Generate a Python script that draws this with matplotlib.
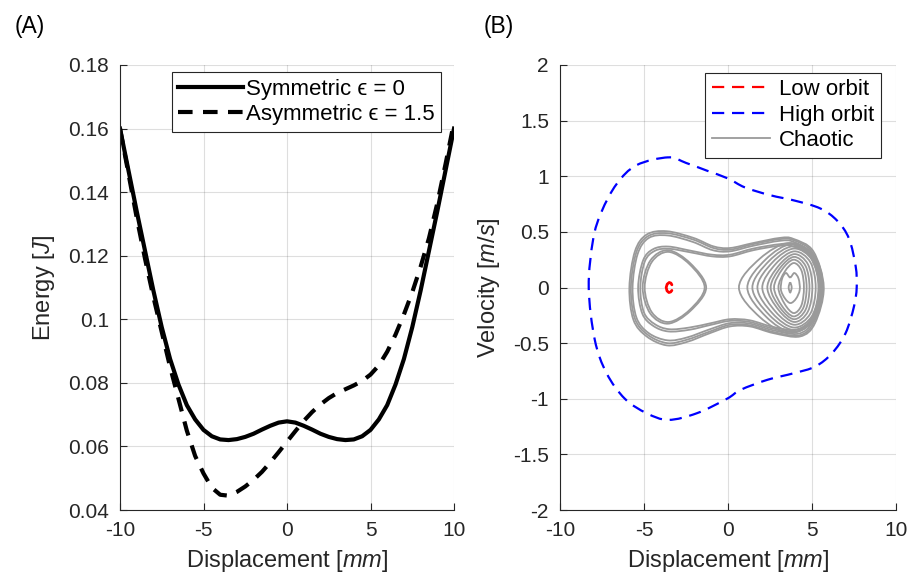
import numpy as np
import matplotlib
matplotlib.use("Agg")
import matplotlib.pyplot as plt
from matplotlib.path import Path
from matplotlib.patches import PathPatch

plt.rcParams['font.family'] = ['Liberation Sans', 'DejaVu Sans']
plt.rcParams['mathtext.fontset'] = 'custom'
plt.rcParams['mathtext.rm'] = 'Liberation Sans'
plt.rcParams['mathtext.it'] = 'Liberation Sans:italic'
plt.rcParams['axes.unicode_minus'] = False

# ---------------- Panel A data ----------------
disp_mm = [-10, -9.5, -9, -8.5, -8, -7.5, -7, -6.5, -6, -5.5, -5, -4.5, -4, -3.5, -3, -2.5,
           -2, -1.5, -1, -0.5, 0, 0.5, 1, 1.5, 2, 2.5, 3, 3.5, 4, 4.5, 5, 5.5, 6, 6.5, 7,
           7.5, 8, 8.5, 9, 9.5, 10]
energy_sym = [0.160, 0.147, 0.134, 0.1215, 0.109, 0.0975, 0.0875, 0.0795, 0.0730, 0.0685,
              0.0652, 0.0632, 0.0622, 0.0620, 0.0623, 0.0630, 0.0640, 0.0653, 0.0665, 0.0675,
              0.0679, 0.0675, 0.0665, 0.0653, 0.0640, 0.0630, 0.0623, 0.0620, 0.0622, 0.0632,
              0.0652, 0.0685, 0.0730, 0.0795, 0.0875, 0.0975, 0.109, 0.1215, 0.134, 0.147, 0.160]
energy_asym = [0.160, 0.146, 0.132, 0.119, 0.107, 0.096, 0.085, 0.075, 0.065, 0.057,
               0.0515, 0.047, 0.0448, 0.0445, 0.0457, 0.0474, 0.0495, 0.052, 0.055, 0.0582,
               0.0615, 0.0648, 0.068, 0.0708, 0.0732, 0.0752, 0.0768, 0.078, 0.0792, 0.0806,
               0.0826, 0.0855, 0.0898, 0.0952, 0.1015, 0.1085, 0.1165, 0.1255, 0.1365, 0.149, 0.162]
a_xticks = [-10, -5, 0, 5, 10]
a_yticks = [0.04, 0.06, 0.08, 0.10, 0.12, 0.14, 0.16, 0.18]
a_yticklabels = ['0.04', '0.06', '0.08', '0.1', '0.12', '0.14', '0.16', '0.18']

# ---------------- Panel B data ----------------
low_x = [-3.34, -3.40, -3.50, -3.62, -3.68, -3.63, -3.52, -3.41, -3.34]
low_v = [0.024, 0.040, 0.045, 0.030, 0.0, -0.030, -0.045, -0.040, -0.026]

high_x = [-3.55, -5.44, -6.63, -7.53, -8.03, -8.29, -7.93, -7.23, -6.14, -4.84, -3.55, -1.85,
          -0.06, 0.75, 2.34, 3.93, 5.2, 6.2, 7.0, 7.5, 7.66, 7.6, 7.2, 6.5, 5.5, 4.0, 2.5,
          1.0, 0.0, -1.25, -2.5]
high_v = [1.17, 1.10, 0.93, 0.68, 0.43, 0.0, -0.47, -0.77, -1.0, -1.13, -1.19, -1.13,
          -1.0, -0.92, -0.83, -0.77, -0.71, -0.59, -0.41, -0.17, 0.0, 0.19, 0.44, 0.60,
          0.71, 0.78, 0.83, 0.90, 0.98, 1.05, 1.12]

# chaotic: loops spanning both wells (explicit keypoints)
dw_loops_x = [
    [-5.87, -5.54, -4.84, -3.65, -2.06, -0.87, 0.12, 1.51, 3.1, 3.89, 5.08, 5.70, 5.18, 4.29,
     2.7, 1.31, 0.12, -1.07, -2.46, -3.65, -4.84, -5.63],
    [-5.78, -5.46, -4.78, -3.62, -2.06, -0.87, 0.12, 1.51, 3.1, 3.9, 5.02, 5.62, 5.12, 4.25,
     2.7, 1.31, 0.12, -1.07, -2.46, -3.62, -4.78, -5.54],
    [-5.68, -5.38, -4.72, -3.6, -2.1, -0.9, 0.12, 1.5, 3.1, 3.9, 4.98, 5.55, 5.06, 4.2,
     2.7, 1.3, 0.12, -1.07, -2.46, -3.6, -4.72, -5.45],
    [-5.35, -5.05, -4.45, -3.55, -2.2, -0.95, 0.12, 1.5, 3.1, 3.9, 4.95, 5.50, 5.02, 4.15,
     2.7, 1.3, 0.12, -1.0, -2.3, -3.55, -4.45, -5.1],
    [-5.22, -4.95, -4.35, -3.5, -2.2, -0.95, 0.12, 1.5, 3.05, 3.85, 4.9, 5.45, 4.98, 4.1,
     2.7, 1.3, 0.12, -1.0, -2.3, -3.5, -4.35, -5.0],
]
dw_loops_v = [
    [0.0, 0.325, 0.476, 0.506, 0.446, 0.37, 0.355, 0.40, 0.446, 0.437, 0.325, 0.0, -0.32,
     -0.44, -0.41, -0.35, -0.35, -0.41, -0.49, -0.52, -0.44, -0.29],
    [0.0, 0.315, 0.46, 0.488, 0.43, 0.355, 0.34, 0.39, 0.435, 0.425, 0.315, 0.0, -0.31,
     -0.43, -0.40, -0.34, -0.335, -0.395, -0.47, -0.50, -0.425, -0.28],
    [0.0, 0.30, 0.445, 0.468, 0.41, 0.335, 0.325, 0.375, 0.42, 0.41, 0.30, 0.0, -0.30,
     -0.415, -0.385, -0.325, -0.32, -0.375, -0.45, -0.475, -0.41, -0.27],
    [0.0, 0.245, 0.345, 0.368, 0.33, 0.295, 0.295, 0.35, 0.39, 0.385, 0.285, 0.0, -0.285,
     -0.395, -0.37, -0.31, -0.30, -0.335, -0.38, -0.395, -0.345, -0.235],
    [0.0, 0.235, 0.33, 0.348, 0.315, 0.28, 0.28, 0.335, 0.375, 0.37, 0.275, 0.0, -0.275,
     -0.38, -0.355, -0.295, -0.285, -0.32, -0.36, -0.375, -0.33, -0.225],
]

# loops in left well only: left x, right x, top v, bottom v
lw_left = [-4.96, -5.08]
lw_right = [-1.39, -1.30]
lw_top = [0.32, 0.335]
lw_bot = [-0.31, -0.325]

# loops in right well only: left x, right x, top v, bottom v
rw_left = [0.65, 1.15, 1.45, 1.75, 2.04, 2.34, 2.54, 2.74, 3.0]
rw_right = [5.65, 5.55, 5.48, 5.38, 5.22, 5.02, 4.85, 4.68, 4.52]
rw_top = [0.40, 0.39, 0.37, 0.35, 0.325, 0.30, 0.275, 0.25, 0.22]
rw_bot = [-0.41, -0.40, -0.38, -0.36, -0.335, -0.31, -0.285, -0.26, -0.23]

heart_x = [3.70, 3.95, 4.20, 4.27, 4.05, 3.72, 3.40, 3.15, 3.22, 3.45]
heart_v = [0.09, 0.13, 0.08, -0.02, -0.10, -0.14, -0.10, -0.02, 0.08, 0.13]
core_x = [3.70, 3.79, 3.70, 3.61]
core_v = [0.045, 0.0, -0.045, 0.0]

b_yticks = [-2, -1.5, -1, -0.5, 0, 0.5, 1, 1.5, 2]
b_yticklabels = ['-2', '-1.5', '-1', '-0.5', '0', '0.5', '1', '1.5', '2']
b_xticks = [-10, -5, 0, 5, 10]


def closed_smooth(xs, ys):
    P = np.column_stack([xs, ys]).astype(float)
    n = len(P)
    verts = [P[0]]
    codes = [Path.MOVETO]
    for i in range(n):
        p0, p1, p2, p3 = P[(i - 1) % n], P[i], P[(i + 1) % n], P[(i + 2) % n]
        verts += [p1 + (p2 - p0) / 6.0, p2 - (p3 - p1) / 6.0, p2]
        codes += [Path.CURVE4] * 3
    return Path(verts, codes)


def left_egg(xl, xr, vt, vb):
    w = xr - xl
    xs = [xl, xl + 0.12 * w, xl + 0.40 * w, xl + 0.75 * w, xr, xl + 0.75 * w, xl + 0.40 * w, xl + 0.12 * w]
    vs = [0.0, 0.72 * vt, vt, 0.65 * vt, 0.0, 0.65 * vb, vb, 0.72 * vb]
    return xs, vs


def right_egg(xl, xr, vt, vb):
    w = xr - xl
    xs = [xl, xl + 0.25 * w, xl + 0.60 * w, xl + 0.90 * w, xr, xl + 0.90 * w, xl + 0.60 * w, xl + 0.25 * w]
    vs = [0.0, 0.65 * vt, vt, 0.70 * vt, 0.0, 0.70 * vb, vb, 0.65 * vb]
    return xs, vs


TXT = '#262626'
GRAY = '#9a9a9a'
fig = plt.figure(figsize=(9.10, 5.78), dpi=100)
axA = fig.add_axes([120 / 910, 1 - 510 / 578, 334 / 910, 445 / 578])
axB = fig.add_axes([560 / 910, 1 - 510 / 578, 336 / 910, 445 / 578])

for ax in (axA, axB):
    ax.spines['top'].set_visible(False)
    ax.spines['right'].set_visible(False)
    for s in ('left', 'bottom'):
        ax.spines[s].set_color(TXT)
        ax.spines[s].set_linewidth(0.8)
    ax.grid(True, color=TXT, alpha=0.15, linewidth=0.8)
    ax.set_axisbelow(True)
    ax.tick_params(direction='in', length=5, width=0.8, color=TXT, labelcolor=TXT,
                   labelsize=15, pad=8)

# ---- Panel A ----
axA.plot(disp_mm, energy_sym, color='black', linewidth=3.0, label='Symmetric ϵ = 0')
axA.plot(disp_mm, energy_asym, color='black', linewidth=3.0, linestyle=(0, (3.5, 2.5)),
         label='Asymmetric ϵ = 1.5')
axA.set_xlim(-10, 10)
axA.set_ylim(0.04, 0.18)
axA.set_xticks(a_xticks)
axA.set_xticklabels([str(t) for t in a_xticks])
axA.set_yticks(a_yticks)
axA.set_yticklabels(a_yticklabels)
axA.set_xlabel(r'Displacement [$mm$]', fontsize=17, color=TXT, labelpad=6)
axA.set_ylabel(r'Energy [$J$]', fontsize=17, color=TXT, labelpad=8)
legA = axA.legend(loc='upper right', bbox_to_anchor=(0.962, 0.984), borderaxespad=0,
                  fontsize=16, frameon=True, fancybox=False, framealpha=1,
                  edgecolor=TXT, handlelength=2.9, handletextpad=0.15,
                  labelspacing=0.2, borderpad=0.3)
legA.get_frame().set_linewidth(0.8)

# ---- Panel B ----
def add_loop(xs, vs):
    axB.add_patch(PathPatch(closed_smooth(xs, vs), fill=False, edgecolor=GRAY, linewidth=1.3))

for xs, vs in zip(dw_loops_x, dw_loops_v):
    add_loop(xs, vs)
for xl, xr, vt, vb in zip(lw_left, lw_right, lw_top, lw_bot):
    add_loop(*left_egg(xl, xr, vt, vb))
for xl, xr, vt, vb in zip(rw_left, rw_right, rw_top, rw_bot):
    add_loop(*right_egg(xl, xr, vt, vb))
add_loop(heart_x, heart_v)
add_loop(core_x, core_v)

axB.add_patch(PathPatch(closed_smooth(high_x, high_v), fill=False, edgecolor='blue',
                        linewidth=1.6, linestyle=(0, (5.5, 3.5))))
axB.plot(low_x, low_v, color='red', linewidth=2.0, solid_capstyle='round')

hl1, = axB.plot([], [], color='red', linewidth=1.6, linestyle=(0, (5.5, 3.5)), label='Low orbit')
hl2, = axB.plot([], [], color='blue', linewidth=1.6, linestyle=(0, (5.5, 3.5)), label='High orbit')
hl3, = axB.plot([], [], color=GRAY, linewidth=1.3, label='Chaotic')

axB.set_xlim(-10, 10)
axB.set_ylim(-2, 2)
axB.set_xticks(b_xticks)
axB.set_xticklabels([str(t) for t in b_xticks])
axB.set_yticks(b_yticks)
axB.set_yticklabels(b_yticklabels)
axB.set_xlabel(r'Displacement [$mm$]', fontsize=17, color=TXT, labelpad=6)
axB.set_ylabel(r'Velocity [$m/s$]', fontsize=17, color=TXT, labelpad=8)
legB = axB.legend(handles=[hl1, hl2, hl3], loc='upper right', bbox_to_anchor=(0.954, 0.983),
                  borderaxespad=0, fontsize=16, frameon=True, fancybox=False, framealpha=1,
                  edgecolor=TXT, handlelength=2.6, handletextpad=0.4,
                  labelspacing=0.2, borderpad=0.3)
legB.get_frame().set_linewidth(0.8)

fig.text(15 / 910, 1 - 26 / 578, '(A)', fontsize=16.5, color='black', va='center', ha='left')
fig.text(484 / 910, 1 - 26 / 578, '(B)', fontsize=16.5, color='black', va='center', ha='left')

fig.savefig('out.png', dpi=100)
